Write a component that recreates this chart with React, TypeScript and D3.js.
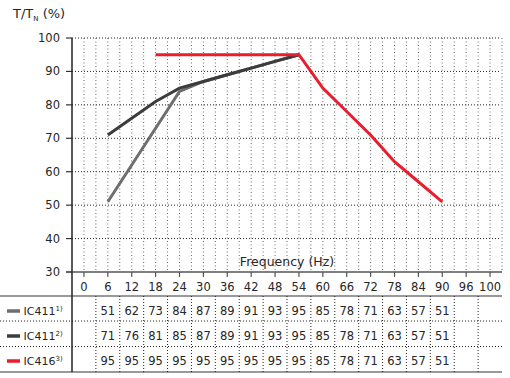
import React from "react";
import * as d3 from "d3";

const freqLabels = ["0","6","12","18","24","30","36","42","48","54","60","66","72","78","84","90","96","100"];
const dataFreqs = ["6","12","18","24","30","36","42","48","54","60","66","72","78","84","90"];
const ic411a = [51,62,73,84,87,89,91,93,95,85,78,71,63,57,51];
const ic411b = [71,76,81,85,87,89,91,93,95,85,78,71,63,57,51];
const ic416 = [95,95,95,95,95,95,95,95,95,85,78,71,63,57,51];
const yTicks = [30,40,50,60,70,80,90,100];

const seriesNames = ["IC411", "IC411", "IC416"];
const seriesSup = ["1)", "2)", "3)"];
const seriesColors = ["#6e6e6e", "#3c3c3c", "#ea1d2c"];
const seriesValues = [ic411a, ic411b, ic416];
// frequency range in which each curve is drawn in the plot
const plotFrom = ["6", "6", "18"];
const plotTo = ["54", "54", "90"];

const W = 510, H = 378;
const left = 72, right = 502, top = 38, bottom = 272;
const FONT = "DejaVu Sans, sans-serif";
const TXT = "#262626";

export default function App() {
  const x = d3.scaleBand<string>().domain(freqLabels).range([left, right]).padding(0);
  const cx = (f: string) => (x(f) as number) + x.bandwidth() / 2;
  const y = d3.scaleLinear().domain([30, 100]).range([bottom, top]);
  const step = x.bandwidth();

  const vGrid: number[] = [];
  for (let i = 0; i < freqLabels.length; i++) {
    vGrid.push(cx(freqLabels[i]));
    vGrid.push(cx(freqLabels[i]) + step / 2);
  }

  const line = d3.line<[string, number]>().x(d => cx(d[0])).y(d => y(d[1]));

  const rowY = [311, 336, 361];
  const tableTop = 296, tableBottom = 372;
  const rowSeps = [321, 346.5];

  return (
    <svg width={W} height={H} style={{ position: "absolute", left: 0, top: 0, background: "#fff" }} fontFamily={FONT}>
      {/* title */}
      <text x={13} y={18} fontSize={13} fill={TXT}>
        T/T<tspan fontSize={7} dy={3}>N</tspan><tspan dy={-3}> (%)</tspan>
      </text>

      {/* horizontal grid */}
      {yTicks.filter(t => t > 30).map(t => (
        <line key={"h" + t} x1={left} x2={right - 2} y1={y(t)} y2={y(t)} stroke="#222" strokeDasharray="1,2" strokeWidth={1} />
      ))}
      {/* vertical grid */}
      {vGrid.map((v, i) => (
        <line key={"v" + i} x1={v} x2={v} y1={top} y2={bottom} stroke="#666" strokeDasharray="1,2.5" strokeWidth={1} />
      ))}

      {/* y ticks and labels */}
      {yTicks.map(t => (
        <g key={"y" + t}>
          <line x1={66} x2={left} y1={y(t)} y2={y(t)} stroke="#333" strokeWidth={1.2} />
          <text x={60} y={y(t) + 4} fontSize={11.5} textAnchor="end" fill={TXT}>{t}</text>
        </g>
      ))}

      {/* x axis */}
      <line x1={66} x2={right} y1={bottom} y2={bottom} stroke="#555" strokeWidth={1.5} />
      {freqLabels.map(f => (
        <g key={"x" + f}>
          <line x1={cx(f)} x2={cx(f)} y1={bottom} y2={bottom + 5} stroke="#555" strokeWidth={1.2} />
          <text x={cx(f)} y={291} fontSize={11.5} textAnchor="middle" fill={TXT}>{f}</text>
        </g>
      ))}
      <text x={(left + right) / 2} y={266} fontSize={12.5} textAnchor="middle" fill={TXT}>Frequency (Hz)</text>

      {/* curves */}
      {seriesValues.map((vals, s) => {
        const i0 = dataFreqs.indexOf(plotFrom[s]);
        const i1 = dataFreqs.indexOf(plotTo[s]);
        const pts: [string, number][] = dataFreqs.slice(i0, i1 + 1).map((f, k) => [f, vals[i0 + k]]);
        return <path key={"l" + s} d={line(pts) || ""} fill="none" stroke={seriesColors[s]} strokeWidth={3} strokeLinejoin="miter" />;
      })}

      {/* table */}
      <line x1={0} x2={right} y1={tableTop} y2={tableTop} stroke="#777" strokeWidth={1.5} />
      <line x1={0} x2={right} y1={tableBottom} y2={tableBottom} stroke="#777" strokeWidth={1.5} />
      {rowSeps.map((ry, i) => (
        <line key={"rs" + i} x1={0} x2={right} y1={ry} y2={ry} stroke="#222" strokeDasharray="1,2" strokeWidth={1} />
      ))}
      {freqLabels.slice(1).map(f => (
        <line key={"tc" + f} x1={x(f) as number} x2={x(f) as number} y1={tableTop} y2={tableBottom} stroke="#222" strokeDasharray="1,2" strokeWidth={1} />
      ))}
      {seriesValues.map((vals, s) => (
        <g key={"row" + s}>
          <line x1={7} x2={20} y1={rowY[s]} y2={rowY[s]} stroke={seriesColors[s]} strokeWidth={3.5} />
          <text x={23.5} y={rowY[s] + 4} fontSize={11} fill={TXT}>
            {seriesNames[s]}<tspan fontSize={7} dy={-4}>{seriesSup[s]}</tspan>
          </text>
          {vals.map((v, k) => (
            <text key={k} x={cx(dataFreqs[k])} y={rowY[s] + 4} fontSize={11.5} textAnchor="middle" fill={TXT}>{v}</text>
          ))}
        </g>
      ))}

      {/* y axis line */}
      <line x1={left} x2={left} y1={top} y2={tableBottom} stroke="#222" strokeWidth={1.5} />
    </svg>
  );
}
